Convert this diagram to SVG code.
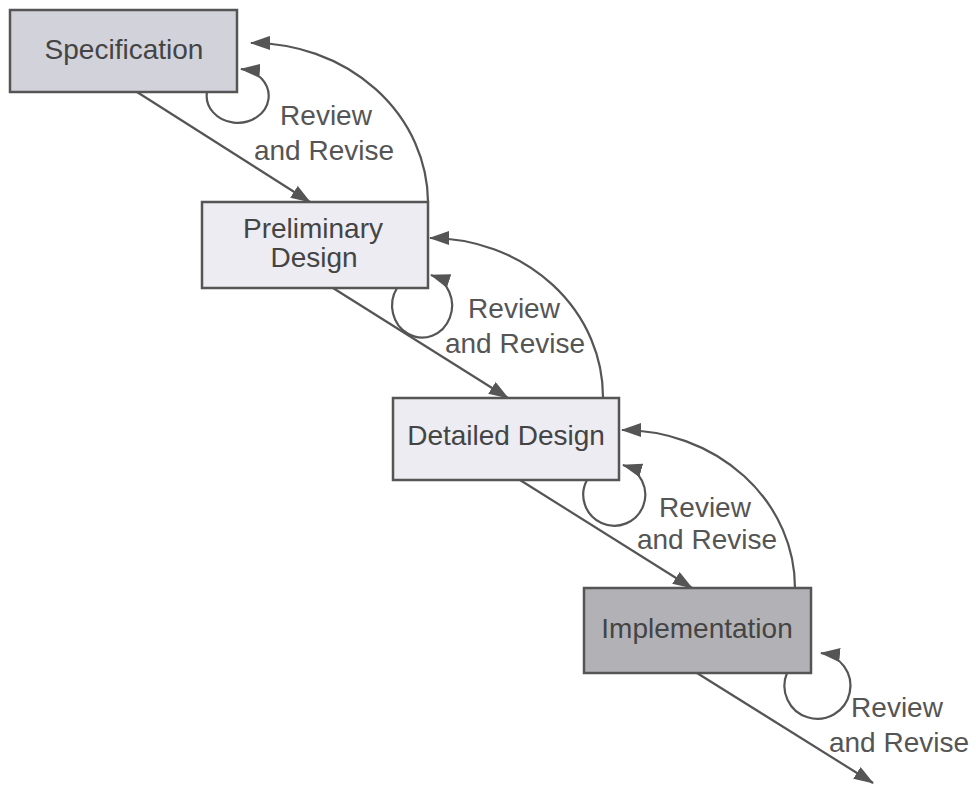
<svg xmlns="http://www.w3.org/2000/svg" width="976" height="811" viewBox="0 0 976 811">
<defs>
<style>
.box{stroke:#555;stroke-width:2.5}
.t{font-family:"Liberation Sans",Arial,sans-serif;font-size:28px;fill:#444;text-anchor:middle}
.lbl{font-family:"Liberation Sans",Arial,sans-serif;font-size:28px;fill:#555;text-anchor:middle}
.c{fill:none;stroke:#555;stroke-width:2.2;marker-end:url(#ah)}
</style>
<marker id="ah" markerWidth="20" markerHeight="14" refX="19" refY="7" orient="auto" markerUnits="userSpaceOnUse">
<path d="M0,0 L20,7 L0,14 z" fill="#555"/>
</marker>
</defs>
<rect width="976" height="811" fill="#ffffff"/>
<g id="connectors">
<path class="c" d="M137,92 L310,202"/>
<path class="c" d="M333,288 L508,398"/>
<path class="c" d="M520,480 L692,588"/>
<path class="c" d="M697,673 L873,783"/>
<path class="c" d="M428,202 A176,160 0 0 0 251,43"/>
<path class="c" d="M603,398 A173,159 0 0 0 430,238"/>
<path class="c" d="M795,588 A173,158 0 0 0 622,430"/>
<path class="c" d="M207,92 A31,27 0 1 0 241,69"/>
<path class="c" d="M397,288 A30,32 0 1 0 431,275"/>
<path class="c" d="M587,480 A31,31 0 1 0 623,465"/>
<path class="c" d="M787,673 A33,33 0 1 0 821,653"/>
<text class="lbl" x="326" y="125">Review</text>
<text class="lbl" x="324" y="160">and Revise</text>
<text class="lbl" x="514" y="318">Review</text>
<text class="lbl" x="515" y="353">and Revise</text>
<text class="lbl" x="705" y="517">Review</text>
<text class="lbl" x="707" y="549">and Revise</text>
<text class="lbl" x="897" y="717">Review</text>
<text class="lbl" x="899" y="752">and Revise</text>
</g>
<g id="specification">
<rect class="box" x="10" y="10" width="227" height="82" fill="#d2d2da"/>
<text class="t" x="124" y="59">Specification</text>
</g>
<g id="preliminary-design">
<rect class="box" x="202" y="202" width="226" height="86" fill="#ececf2"/>
<text class="t" x="313" y="238">Preliminary</text>
<text class="t" x="314" y="267">Design</text>
</g>
<g id="detailed-design">
<rect class="box" x="393" y="398" width="226" height="82" fill="#ececf2"/>
<text class="t" x="506" y="445">Detailed Design</text>
</g>
<g id="implementation">
<rect class="box" x="584" y="588" width="227" height="85" fill="#b2b2b6"/>
<text class="t" x="697" y="638">Implementation</text>
</g>
</svg>
